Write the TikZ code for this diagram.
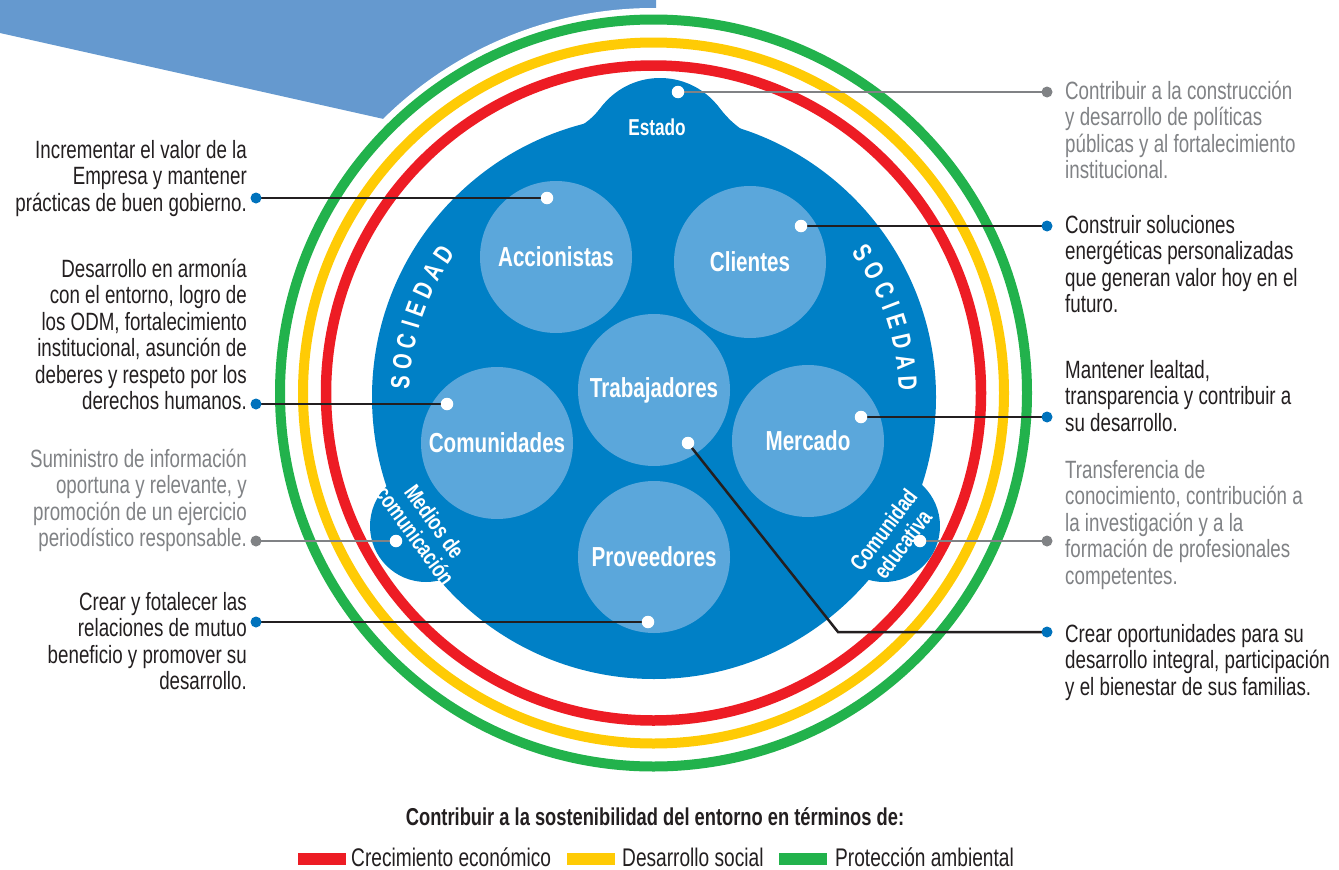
\documentclass[tikz,border=0pt]{standalone}
\usepackage{fontspec}
\setmainfont{Liberation Sans}[FakeStretch=0.75]
\usetikzlibrary{calc}
\definecolor{topblue}{RGB}{101,153,207}
\definecolor{mainblue}{RGB}{0,128,198}
\definecolor{lightblue}{RGB}{91,167,219}
\definecolor{ringred}{RGB}{237,28,36}
\definecolor{ringyellow}{RGB}{255,203,5}
\definecolor{ringgreen}{RGB}{34,178,76}
\definecolor{txtdark}{RGB}{35,31,32}
\definecolor{txtgray}{RGB}{128,130,133}
\definecolor{dotblue}{RGB}{0,114,188}
\newcommand\rblock[1]{\begin{tabular}[t]{@{}r@{}}#1\end{tabular}}
\newcommand\lblock[1]{\begin{tabular}[t]{@{}l@{}}#1\end{tabular}}
\begin{document}
\begin{tikzpicture}[x=1pt,y=-1pt,
  ring/.style={line width=10pt},
  circ/.style={circle, fill=lightblue, minimum size=152pt, inner sep=0pt, text=white, font=\fontsize{27.5}{30}\selectfont\bfseries},
  slabel/.style={text=white, font=\fontsize{23}{24}\selectfont\bfseries, align=center, inner sep=0pt},
  soc/.style={text=white, font=\fontsize{26.5}{28}\selectfont\bfseries, inner sep=0pt},
  desc/.style={font=\fontsize{25}{26.5}\selectfont, inner sep=0pt, text=txtdark},
  descgray/.style={desc, text=txtgray},
  wdot/.style={circle, fill=white, minimum size=12.5pt, inner sep=0pt},
  bdot/.style={circle, fill=dotblue, minimum size=11pt, inner sep=0pt},
  gdot/.style={circle, fill=txtgray, minimum size=11pt, inner sep=0pt},
  conn/.style={line width=2.5pt, draw=txtdark},
  conngray/.style={line width=2.5pt, draw=txtgray},
  legbox/.style={minimum width=48pt, minimum height=12pt, inner sep=0pt},
  legtxt/.style={font=\fontsize{25.5}{27}\selectfont, text=txtdark, inner sep=0pt, anchor=base west},
]
\useasboundingbox (0,0) rectangle (1339,870);
\fill[white] (0,0) rectangle (1339,870);
\coordinate (rc) at (653.5,393);
\coordinate (bc) at (654,397);
% top-left banner
\fill[topblue] (0,0) -- (656,0) -- (656,180) -- (0,33) -- cycle;
\fill[white] (rc) circle (385pt);
% rings
\draw[ring, ringgreen] (rc) circle (373.5pt);
\draw[ring, ringyellow] (rc) circle (350.5pt);
\draw[ring, ringred, line width=10.5pt] (rc) circle (327.5pt);
% blue body
\fill[mainblue] (bc) circle (282pt);
\fill[mainblue] (660,152) circle (74pt);
\fill[mainblue] (576,128) .. controls (590,122) and (597,112) .. (604,104) -- (716,104) .. controls (723,112) and (730,122) .. (744,131) -- cycle;
\fill[mainblue] (426,526) circle (56pt);
\fill[mainblue] (884,526) circle (56pt);
% SOCIEDAD left and right
\foreach \ch/\ang [count=\i] in {S/176.8, O/172.09, C/167.27, I/163.47, E/159.77, D/155.18, A/150.48, D/145.8}
  \node[soc, rotate=\ang-90] (socL\i) at ($(bc)+({254*cos(\ang)},{-254*sin(\ang)})$) {\ch};
\foreach \ch/\ang [count=\i] in {S/34.6, O/29.82, C/24.95, I/21.09, E/17.35, D/12.7, A/7.94, D/3.2}
  \node[soc, rotate=\ang-90] (socR\i) at ($(bc)+({254*cos(\ang)},{-254*sin(\ang)})$) {\ch};
% stakeholder circles
\node[circ] (acc) at (556,257) {Accionistas};
\node[circ] (cli) at (750,262) {Clientes};
\node[circ] (tra) at (654,390) {Trabajadores};
\node[circ] (com) at (497,443) {\raisebox{-4pt}{Comunidades}};
\node[circ] (mer) at (808,441) {Mercado};
\node[circ] (pro) at (654,557) {Proveedores};
\node[slabel] (est) at (657,127) {Estado};
\node[slabel, rotate=-54] (med) at (425,528.5) {Medios de\\comunicación};
\node[slabel, rotate=53] (edu) at (893,537) {Comunidad\\educativa};
% connector points
\coordinate (pEst) at (678,92);  \coordinate (qEst) at (1047,92);
\coordinate (pAcc) at (547,198); \coordinate (qAcc) at (256,198);
\coordinate (pCli) at (801,226); \coordinate (qCli) at (1047,226);
\coordinate (pCom) at (447,404); \coordinate (qCom) at (256,404);
\coordinate (pMer) at (861,417); \coordinate (qMer) at (1047,417);
\coordinate (pMed) at (396,541); \coordinate (qMed) at (256,541);
\coordinate (pEdu) at (920,541); \coordinate (qEdu) at (1047,541);
\coordinate (pPro) at (648,622); \coordinate (qPro) at (256,622);
\coordinate (pTra) at (688,443); \coordinate (kTra) at (838,632); \coordinate (qTra) at (1047,632);
\draw[conngray] (pEst) -- (qEst);
\draw[conn] (pAcc) -- (qAcc);
\draw[conn] (pCli) -- (qCli);
\draw[conn] (pCom) -- (qCom);
\draw[conn] (pMer) -- (qMer);
\draw[conngray] (pMed) -- (qMed);
\draw[conngray] (pEdu) -- (qEdu);
\draw[conn] (pPro) -- (qPro);
\draw[conn] (pTra) -- (kTra) -- (qTra);
\foreach \n in {Est,Acc,Cli,Com,Mer,Med,Edu,Pro,Tra}
  \node[wdot] (w\n) at (p\n) {};
\foreach \n in {Acc,Cli,Com,Mer,Pro,Tra}
  \node[bdot] (b\n) at (q\n) {};
\foreach \n in {Est,Med,Edu}
  \node[gdot] (g\n) at (q\n) {};
% descriptions left
\node[desc, anchor=base east] (tAcc) at (247,158) {\rblock{Incrementar el valor de la\\Empresa y mantener\\prácticas de buen gobierno.}};
\node[desc, anchor=base east] (tCom) at (247,277) {\rblock{Desarrollo en armonía\\con el entorno, logro de\\los ODM, fortalecimiento\\institucional, asunción de\\deberes y respeto por los\\derechos humanos.}};
\node[descgray, anchor=base east] (tMed) at (247,467) {\rblock{Suministro de información\\oportuna y relevante, y\\promoción de un ejercicio\\periodístico responsable.}};
\node[desc, anchor=base east] (tPro) at (247,610) {\rblock{Crear y fotalecer las\\relaciones de mutuo\\beneficio y promover su\\desarrollo.}};
% descriptions right
\node[descgray, anchor=base west] (tEst) at (1065,99) {\lblock{Contribuir a la construcción\\y desarrollo de políticas\\públicas y al fortalecimiento\\institucional.}};
\node[desc, anchor=base west] (tCli) at (1065,233) {\lblock{Construir soluciones\\energéticas personalizadas\\que generan valor hoy en el\\futuro.}};
\node[desc, anchor=base west] (tMer) at (1065,378) {\lblock{Mantener lealtad,\\transparencia y contribuir a\\su desarrollo.}};
\node[descgray, anchor=base west] (tEdu) at (1065,478) {\lblock{Transferencia de\\conocimiento, contribución a\\la investigación y a la\\formación de profesionales\\competentes.}};
\node[desc, anchor=base west] (tTra) at (1065,642) {\lblock{Crear oportunidades para su\\desarrollo integral, participación\\y el bienestar de sus familias.}};
% legend
\node[font=\fontsize{24.4}{26}\selectfont\bfseries, text=txtdark, inner sep=0pt, anchor=base] (legt) at (655,825) {Contribuir a la sostenibilidad del entorno en términos de:};
\node[legbox, fill=ringred, anchor=west] (lr) at (298,859) {};
\node[legtxt] (lrt) at (351,866) {Crecimiento económico};
\node[legbox, fill=ringyellow, anchor=west] (ly) at (567,859) {};
\node[legtxt] (lyt) at (622,866) {Desarrollo social};
\node[legbox, fill=ringgreen, anchor=west] (lg) at (779,859) {};
\node[legtxt] (lgt) at (835,866) {Protección ambiental};
\end{tikzpicture}
\end{document}
